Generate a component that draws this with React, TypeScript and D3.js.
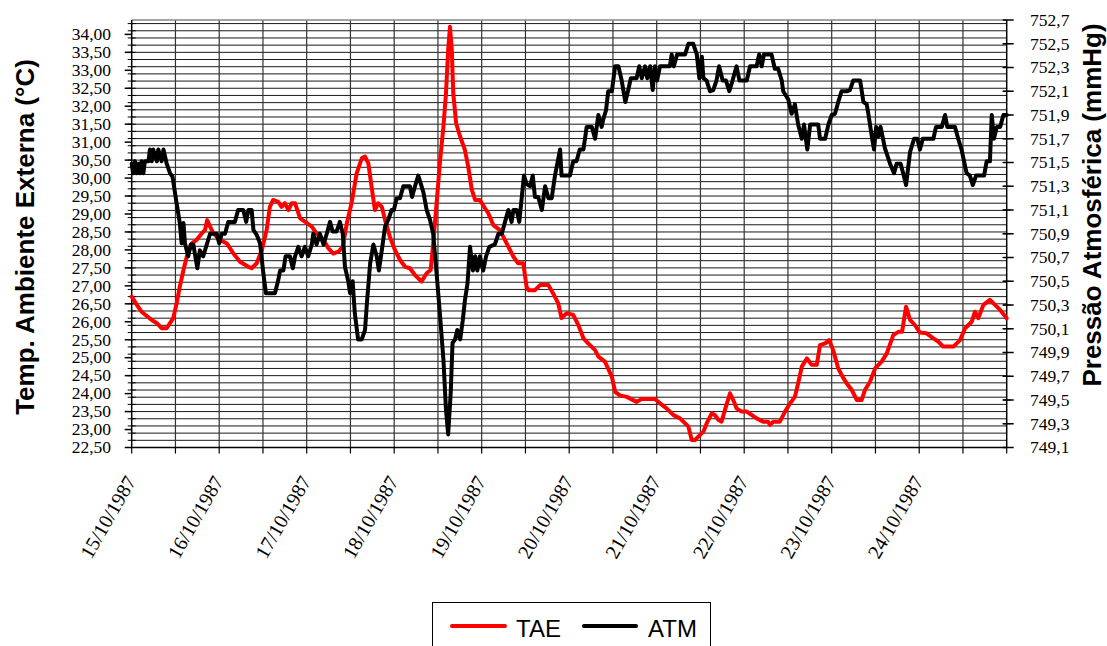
import React from "react";
import * as d3 from "d3";

const dateLabels = ["15/10/1987","16/10/1987","17/10/1987","18/10/1987","19/10/1987","20/10/1987","21/10/1987","22/10/1987","23/10/1987","24/10/1987"];
const leftTicks = [22.5,23,23.5,24,24.5,25,25.5,26,26.5,27,27.5,28,28.5,29,29.5,30,30.5,31,31.5,32,32.5,33,33.5,34];
const rightTicks = [749.1,749.3,749.5,749.7,749.9,750.1,750.3,750.5,750.7,750.9,751.1,751.3,751.5,751.7,751.9,752.1,752.3,752.5,752.7];

// TAE (°C) – hours since 15/10/1987 00:00
const tHours = [0,1.4,2.7,5.5,6.9,8.2,9.6,10.5,11.4,12.3,13.2,14.2,15.1,16.5,17.8,19.2,20.1,20.7,21.5,22.4,24.2,26.1,27.9,29.7,32.0,32.9,34.3,35.7,37.0,37.9,38.8,40.2,41.1,42.0,43.0,43.9,44.8,46.2,47.5,49.4,50.7,52.6,53.9,55.3,56.7,57.9,59.0,60.3,61.7,63.1,64.0,64.9,65.8,66.7,67.6,68.6,69.5,70.8,72.2,73.6,75.0,76.3,77.7,79.5,80.9,82.0,82.7,83.7,84.6,85.5,86.2,86.8,87.3,87.8,88.2,89.0,90.1,91.4,92.3,93.3,94.2,95.5,96.9,97.8,99.2,101.0,101.9,103.3,104.7,106.0,107.4,108.3,108.8,110.6,112.0,114.3,115.6,117.0,117.9,119.3,121.1,122.5,123.9,125.2,127.1,128.0,129.8,131.7,132.6,133.9,135.8,138.5,139.9,141.3,143.5,144.9,146.7,148.6,150.4,151.8,152.7,153.6,154.5,155.9,156.8,157.7,159.1,160.0,160.9,161.8,162.7,164.1,165.0,165.9,167.3,168.7,170.1,171.4,173.2,174.5,175.1,176.0,177.8,179.2,180.6,181.9,182.8,183.8,185.2,186.5,187.9,188.8,190.2,191.3,192.4,193.8,195.2,196.1,197.5,198.9,200.2,201.1,202.5,203.9,205.7,207.1,208.9,210.3,211.3,212.4,213.5,214.8,216.2,218.0,219.9,221.2,222.6,225.4,227.2,228.6,230.4,231.3,232.2,233.6,235.4,236.8,238.2,240];
const tValues = [26.70,26.47,26.28,26.05,25.96,25.82,25.82,25.96,26.10,26.50,26.98,27.44,27.81,28.18,28.28,28.46,28.55,28.83,28.65,28.46,28.28,28.18,27.90,27.67,27.53,27.49,27.63,28.00,28.55,29.20,29.39,29.34,29.20,29.30,29.11,29.30,29.30,28.88,28.79,28.65,28.46,28.28,28.05,27.90,27.95,28.09,28.74,29.30,30.13,30.55,30.60,30.41,29.76,29.11,29.30,29.20,28.83,28.37,28.00,27.72,27.53,27.49,27.30,27.12,27.35,27.44,28.18,29.39,30.50,31.43,32.36,33.57,34.21,33.57,32.36,31.52,31.15,30.78,30.32,29.67,29.39,29.39,29.16,29.02,28.69,28.55,28.37,28.09,27.81,27.63,27.63,26.98,26.88,26.88,27.02,27.02,26.79,26.51,26.10,26.24,26.19,25.91,25.54,25.40,25.21,25.03,24.89,24.47,24.05,23.95,23.91,23.77,23.85,23.85,23.85,23.73,23.59,23.40,23.31,23.17,23.08,22.71,22.71,22.85,22.94,23.17,23.45,23.40,23.27,23.22,23.54,24.01,23.82,23.59,23.50,23.50,23.40,23.31,23.22,23.22,23.13,23.22,23.22,23.50,23.73,23.91,24.29,24.75,24.98,24.80,24.80,25.35,25.40,25.49,25.21,24.70,24.43,24.29,24.10,23.82,23.82,24.10,24.33,24.70,24.89,25.12,25.63,25.72,25.72,26.42,26.05,25.91,25.70,25.68,25.54,25.45,25.31,25.31,25.49,25.82,26.00,26.28,26.10,26.47,26.61,26.47,26.33,26.10];

// ATM (mmHg)
const pHours = [0,0.4,0.9,1.4,1.8,2.3,2.7,3.2,3.6,4.6,5.0,5.5,5.9,6.9,7.3,8.2,8.7,9.6,10.5,11.2,12.3,13.2,13.7,14.2,14.6,15.5,16.2,16.9,18.0,18.7,19.6,20.7,21.5,23.3,24.0,24.7,25.6,26.5,28.3,29.2,30.6,31.4,32.0,32.9,33.4,34.3,35.2,36.1,36.8,39.3,40.2,40.7,41.6,42.2,43.4,44.2,44.8,45.7,46.6,47.5,48.4,49.4,49.8,50.7,51.6,52.6,53.5,54.4,55.1,56.2,57.1,57.9,58.5,59.4,59.9,60.6,61.2,62.1,63.1,64.0,64.5,65.4,66.3,67.2,67.8,68.6,69.5,70.4,71.3,71.9,72.7,73.6,74.5,76.3,76.9,77.7,78.6,79.3,80.0,80.9,81.8,82.7,83.7,84.6,85.5,86.2,86.8,87.5,88.0,88.7,89.3,90.1,90.8,91.4,92.1,92.8,93.6,94.2,94.8,95.5,96.4,97.2,98.1,99.6,100.6,101.5,102.4,103.3,104.2,104.7,105.6,106.3,107.0,107.6,108.3,109.3,110.0,110.6,111.5,112.5,113.4,114.3,115.2,116.1,117.5,117.9,120.2,121.1,122.0,122.9,123.9,124.8,126.2,127.1,128.0,128.9,129.4,130.1,130.7,131.7,132.6,133.5,134.4,135.4,136.2,136.9,138.5,139.2,139.9,140.8,141.4,142.2,142.9,143.5,144.1,144.9,147.6,148.1,148.7,149.6,151.8,152.7,154.0,155.0,155.7,156.4,156.8,157.7,158.6,159.5,160.4,161.1,162.1,163.0,163.9,164.8,165.9,166.7,168.7,169.6,171.4,172.1,172.8,173.4,175.5,176.4,177.3,178.3,178.7,180.1,181.0,181.9,182.8,183.8,184.4,185.3,186.1,188.3,188.8,190.2,191.1,192.0,192.9,193.8,194.7,196.1,197.0,197.9,198.8,199.8,200.7,201.6,202.1,203.0,203.6,204.2,204.8,205.4,206.6,208.0,209.1,209.8,210.9,211.6,212.4,213.5,214.6,215.5,216.2,217.0,219.9,220.6,222.2,223.1,223.7,225.8,226.7,227.6,229.0,229.9,230.7,231.6,233.8,234.5,235.4,235.9,236.5,237.3,238.2,239.1,240];
const pValues = [751.49,751.41,751.51,751.41,751.49,751.41,751.51,751.41,751.51,751.51,751.61,751.51,751.61,751.51,751.61,751.51,751.61,751.49,751.41,751.38,751.16,750.99,750.82,750.99,750.82,750.71,750.81,750.81,750.61,750.76,750.71,750.82,750.90,750.90,750.82,750.90,750.90,751.00,751.00,751.10,751.10,751.00,751.10,751.10,750.93,750.89,750.82,750.57,750.40,750.40,750.51,750.59,750.59,750.71,750.71,750.61,750.71,750.79,750.71,750.79,750.71,750.81,750.90,750.81,750.90,750.81,750.90,751.00,750.92,750.92,751.00,750.90,750.62,750.50,750.40,750.50,750.23,750.01,750.01,750.09,750.31,750.65,750.81,750.71,750.59,750.76,750.96,751.02,751.10,751.10,751.20,751.20,751.30,751.30,751.21,751.30,751.39,751.32,751.25,751.10,751.02,750.90,750.54,750.20,749.84,749.42,749.21,749.56,749.98,750.01,750.09,750.01,750.17,750.34,750.48,750.79,750.59,750.71,750.59,750.71,750.59,750.71,750.79,750.81,750.90,750.90,751.00,751.10,751.00,751.10,751.10,751.00,751.21,751.39,751.32,751.30,751.39,751.21,751.21,751.10,751.30,751.20,751.20,751.39,751.61,751.39,751.39,751.51,751.51,751.61,751.61,751.80,751.80,751.70,751.90,751.80,751.87,751.94,752.10,752.10,752.31,752.31,752.19,752.01,752.11,752.21,752.21,752.31,752.21,752.31,752.21,752.31,752.11,752.31,752.19,752.31,752.31,752.41,752.31,752.41,752.41,752.50,752.50,752.41,752.21,752.39,752.21,752.19,752.10,752.11,752.19,752.31,752.19,752.19,752.10,752.19,752.31,752.19,752.19,752.31,752.31,752.41,752.31,752.41,752.41,752.29,752.29,752.19,752.10,752.03,751.91,751.99,751.82,751.70,751.82,751.61,751.82,751.82,751.70,751.70,751.82,751.90,751.91,752.01,752.10,752.10,752.11,752.19,752.19,752.19,752.01,751.99,751.90,751.72,751.61,751.80,751.72,751.80,751.62,751.49,751.41,751.49,751.49,751.41,751.31,751.59,751.70,751.70,751.61,751.70,751.70,751.80,751.80,751.90,751.80,751.80,751.70,751.61,751.41,751.39,751.31,751.39,751.39,751.51,751.51,751.90,751.70,751.80,751.80,751.90,751.90];

const serif = "'Liberation Serif', 'Times New Roman', serif";
const sans = "'Liberation Sans', Arial, sans-serif";

export default function App() {
  const W = 1107, H = 646;
  const x0 = 131.7, x1 = 1006.7, yTop = 20, yBot = 447.5;
  const x = d3.scaleLinear().domain([0, 240]).range([x0, x1]);
  const yL = d3.scaleLinear().domain([22.5, 34.4]).range([yBot, yTop]);
  const yR = d3.scaleLinear().domain([749.1, 752.7]).range([yBot, yTop]);

  const tData = tHours.map((h, i) => [h, tValues[i]] as [number, number]);
  const pData = pHours.map((h, i) => [h, pValues[i]] as [number, number]);
  const lineT = d3.line<[number, number]>().x(d => x(d[0])).y(d => yL(d[1]));
  const lineP = d3.line<[number, number]>().x(d => x(d[0])).y(d => yR(d[1]));

  const hGrid = d3.range(0, 60).map(k => 22.5 + 0.2 * k);
  const vGrid = d3.range(12, 240, 12);
  const xTicks = d3.range(0, 241, 12);
  const rMinor = d3.range(0, 18).map(k => 749.2 + 0.2 * k);
  const fmt2 = (v: number) => d3.format(".2f")(v).replace(".", ",");
  const fmt1 = (v: number) => d3.format(".1f")(v).replace(".", ",");

  return (
    <svg width={W} height={H} style={{ position: "fixed", left: 0, top: 0, background: "#fff" }}>
      <rect x={0} y={0} width={W} height={H} fill="#fff" />
      {/* horizontal grid */}
      {hGrid.map((v, i) => (
        <line key={"h" + i} x1={x0} x2={x1} y1={yL(v)} y2={yL(v)} stroke="#1a1a1a" strokeWidth={1} />
      ))}
      {/* vertical grid */}
      {vGrid.map((h, i) => (
        <line key={"v" + i} x1={x(h)} x2={x(h)} y1={yTop} y2={yBot} stroke="#333" strokeWidth={1.2} />
      ))}
      <line x1={x0} x2={x1} y1={yTop} y2={yTop} stroke="#888" strokeWidth={1.5} />
      {/* axes */}
      <line x1={x0} x2={x0} y1={yTop} y2={yBot} stroke="#000" strokeWidth={1.5} />
      <line x1={x1} x2={x1} y1={yTop} y2={yBot} stroke="#000" strokeWidth={1.5} />
      <line x1={x0} x2={x1} y1={yBot} y2={yBot} stroke="#000" strokeWidth={1.5} />
      {/* left ticks */}
      {hGrid.map((v, i) => (
        <line key={"lm" + i} x1={x0 - 4} x2={x0 + 4} y1={yL(v)} y2={yL(v)} stroke="#000" strokeWidth={1} />
      ))}
      {leftTicks.map((v, i) => (
        <g key={"lt" + i}>
          <line x1={x0 - 7} x2={x0} y1={yL(v)} y2={yL(v)} stroke="#000" strokeWidth={1.5} />
          <text x={111} y={yL(v)} dy="0.33em" textAnchor="end" fontFamily={serif} fontSize={17.5} fill="#000">{fmt2(v)}</text>
        </g>
      ))}
      {/* right ticks */}
      {rMinor.map((v, i) => (
        <line key={"rm" + i} x1={x1 - 4} x2={x1 + 4} y1={yR(v - 0.1)} y2={yR(v - 0.1)} stroke="#000" strokeWidth={1} />
      ))}
      {rightTicks.map((v, i) => (
        <g key={"rt" + i}>
          <line x1={x1 - 4} x2={x1 + 7} y1={yR(v)} y2={yR(v)} stroke="#000" strokeWidth={1.5} />
          <text x={1030} y={yR(v)} dy="0.33em" textAnchor="start" fontFamily={serif} fontSize={17.5} fill="#000">{fmt1(v)}</text>
        </g>
      ))}
      {/* x ticks */}
      {xTicks.map((h, i) => (
        <line key={"xt" + i} x1={x(h)} x2={x(h)} y1={yBot} y2={yBot + 6} stroke="#000" strokeWidth={1.2} />
      ))}
      {dateLabels.map((s, i) => (
        <text key={"xl" + i} transform={`translate(${x(i * 24) + 5},${481}) rotate(-60)`} textAnchor="end"
          fontFamily={serif} fontSize={20} fill="#000">{s}</text>
      ))}
      {/* series */}
      <path d={lineT(tData) || ""} fill="none" stroke="#ff0000" strokeWidth={4} strokeLinejoin="round" strokeLinecap="round" />
      <path d={lineP(pData) || ""} fill="none" stroke="#000" strokeWidth={4} strokeLinejoin="round" strokeLinecap="round" />
      {/* titles */}
      <text transform="translate(34,237) rotate(-90)" textAnchor="middle" fontFamily={sans} fontWeight="bold" fontSize={26} fill="#000">Temp. Ambiente Externa (°C)</text>
      <text transform="translate(1101,205) rotate(-90)" textAnchor="middle" fontFamily={sans} fontWeight="bold" fontSize={26} fill="#000">Pressão Atmosférica (mmHg)</text>
      {/* legend */}
      <rect x={432.5} y={602.5} width={278} height={60} fill="#fff" stroke="#000" strokeWidth={1} />
      <line x1={452} x2={505} y1={626} y2={626} stroke="#ff0000" strokeWidth={4} strokeLinecap="round" />
      <text x={516} y={637} fontFamily={sans} fontSize={24} fill="#000">TAE</text>
      <line x1={584} x2={636} y1={626} y2={626} stroke="#000" strokeWidth={4} strokeLinecap="round" />
      <text x={648} y={637} fontFamily={sans} fontSize={24} fill="#000">ATM</text>
    </svg>
  );
}
